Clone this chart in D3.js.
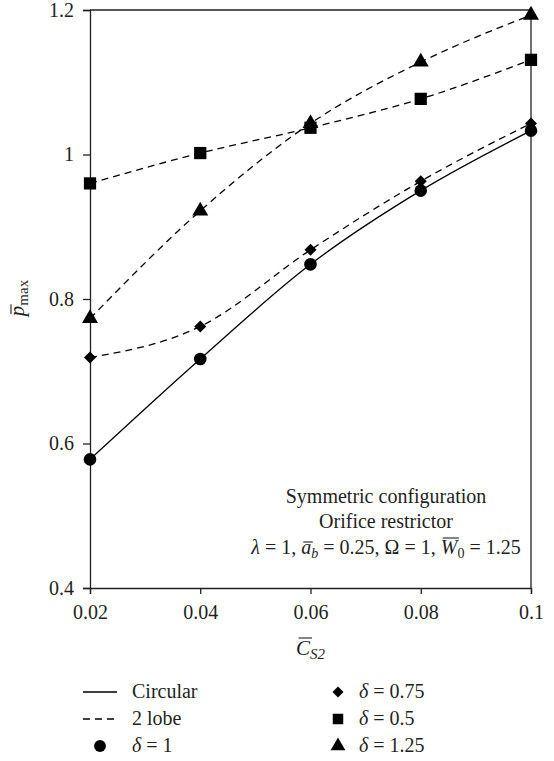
<!DOCTYPE html>
<html>
<head>
<meta charset="utf-8">
<script src="https://cdn.jsdelivr.net/npm/d3@7"></script>
<style>
	body { margin: 0; background: #fff; }
	svg { display: block; }
	text { font-family: "Liberation Serif", "DejaVu Serif", serif; fill: #231f20; }
</style>
</head>
<body>
<div id="chart"></div>
<script>
// values
var cs2 = [0.02, 0.04, 0.06, 0.08, 0.1];
var circularDelta1 = [0.578, 0.717, 0.848, 0.950, 1.033];
var lobeDelta075 = [0.719, 0.762, 0.868, 0.963, 1.043];
var lobeDelta05 = [0.960, 1.002, 1.037, 1.077, 1.131];
var lobeDelta125 = [0.773, 0.922, 1.043, 1.128, 1.193];
var xTicks = [0.02, 0.04, 0.06, 0.08, 0.1];
var yTicks = [0.4, 0.6, 0.8, 1, 1.2];

(function() {
	var width = 554, height = 761,
		plotLeft = 90, plotRight = 531, plotTop = 10, plotBottom = 588,
		ink = "#231f20",
		fontSize = "20px";

	var svg = d3.select("#chart").append("svg")
		.attr("width", width)
		.attr("height", height);

	var x = d3.scaleLinear().domain([0.02, 0.1]).range([plotLeft, plotRight]);
	var y = d3.scaleLinear().domain([0.4, 1.2]).range([plotBottom, plotTop]);

	// frame: left/bottom axes plus closing top and right lines
	var xAxis = d3.axisBottom(x).tickValues(xTicks).tickSizeOuter(0).tickSize(6).tickPadding(8)
		.tickFormat(function(d) { return d === 0.1 ? "0.1" : d3.format(".2f")(d); });
	var yAxis = d3.axisLeft(y).tickValues(yTicks).tickSizeOuter(0).tickSize(7).tickPadding(9)
		.tickFormat(function(d) { return d === 1 ? "1" : d3.format(".1f")(d); });

	var gx = svg.append("g").attr("transform", "translate(0," + plotBottom + ")").call(xAxis);
	var gy = svg.append("g").attr("transform", "translate(" + plotLeft + ",0)").call(yAxis);

	[gx, gy].forEach(function(g) {
		g.selectAll("path, line").attr("stroke", ink).attr("stroke-width", 1.3);
		g.selectAll("text").style("font-size", fontSize).attr("fill", ink);
	});
	gx.selectAll("text").attr("dy", "0.85em");

	svg.append("line").attr("x1", plotLeft).attr("x2", plotRight).attr("y1", plotTop).attr("y2", plotTop)
		.attr("stroke", ink).attr("stroke-width", 1.3);
	svg.append("line").attr("x1", plotRight).attr("x2", plotRight).attr("y1", plotTop).attr("y2", plotBottom)
		.attr("stroke", ink).attr("stroke-width", 1.3);

	// series
	var series = [
		{ values: circularDelta1, dashed: false, symbol: "circle" },
		{ values: lobeDelta075, dashed: true, symbol: "diamond" },
		{ values: lobeDelta05, dashed: true, symbol: "square" },
		{ values: lobeDelta125, dashed: true, symbol: "triangle" }
	];

	var line = d3.line()
		.x(function(d, i) { return x(cs2[i]); })
		.y(function(d) { return y(d); })
		.curve(d3.curveMonotoneX);

	function symbolPath(name) {
		if (name === "circle") return d3.symbol(d3.symbolCircle, 125)();
		if (name === "square") return d3.symbol(d3.symbolSquare, 150)();
		if (name === "diamond") return d3.symbol(d3.symbolSquare, 72)();
		return d3.symbol(d3.symbolTriangle, 110)();
	}

	series.forEach(function(s) {
		svg.append("path")
			.attr("d", line(s.values))
			.attr("fill", "none")
			.attr("stroke", "#000")
			.attr("stroke-width", 1.3)
			.attr("stroke-dasharray", s.dashed ? "7,5" : null);
	});

	series.forEach(function(s) {
		svg.append("g").selectAll("path")
			.data(s.values)
			.join("path")
			.attr("d", symbolPath(s.symbol))
			.attr("transform", function(d, i) {
				var t = "translate(" + x(cs2[i]) + "," + y(d) + ")";
				return s.symbol === "diamond" ? t + " rotate(45)" : t;
			})
			.attr("fill", "#000");
	});

	// draws a bar over one character of a text, in the text's own coordinates
	function overbar(parent, textSel, charIndex, barY, shift) {
		var e = textSel.node().getExtentOfChar(charIndex);
		parent.append("line")
			.attr("x1", e.x + shift + 0.5).attr("x2", e.x + e.width + shift)
			.attr("y1", barY).attr("y2", barY)
			.attr("stroke", ink).attr("stroke-width", 1.1);
	}

	// axis titles
	var xtBase = 655;
	var xt = svg.append("text").attr("x", 296).attr("y", xtBase).style("font-size", "21px");
	xt.append("tspan").style("font-style", "italic").text("C");
	xt.append("tspan").attr("dy", 4).style("font-size", "15px").style("font-style", "italic").text("S2");
	overbar(svg, xt, 0, xtBase - 17, 2);

	var ytGroup = svg.append("g").attr("transform", "translate(24,298) rotate(-90)");
	var yt = ytGroup.append("text")
		.attr("text-anchor", "middle")
		.style("font-size", "21px");
	yt.append("tspan").style("font-style", "italic").text("p");
	yt.append("tspan").attr("dy", 4).style("font-size", "15px").text("max");
	overbar(ytGroup, yt, 0, -13, 1.5);

	// annotation
	var noteX = 386;
	var note = svg.append("g").attr("text-anchor", "middle").style("font-size", fontSize);
	note.append("text").attr("x", noteX).attr("y", 503).text("Symmetric configuration");
	note.append("text").attr("x", noteX).attr("y", 528).text("Orifice restrictor");
	var n3Base = 554;
	var n3 = note.append("text").attr("x", noteX).attr("y", n3Base);
	var parts = [
		{ t: "λ", italic: true },
		{ t: " = 1, " },
		{ t: "a", italic: true, bar: 12 },
		{ t: "b", italic: true, sub: true },
		{ t: " = 0.25, Ω = 1, " },
		{ t: "W", italic: true, bar: 16 },
		{ t: "0", sub: true },
		{ t: " = 1.25" }
	];
	var bars = [], charPos = 0, lastSub = false;
	parts.forEach(function(p) {
		var ts = n3.append("tspan").text(p.t);
		if (p.italic) ts.style("font-style", "italic");
		if (p.sub) { ts.attr("dy", 4).style("font-size", "14px"); }
		else if (lastSub) { ts.attr("dy", -4); }
		lastSub = !!p.sub;
		if (p.bar) bars.push({ index: charPos, rise: p.bar });
		charPos += p.t.length;
	});
	bars.forEach(function(b) { overbar(svg, n3, b.index, n3Base - b.rise, 1.5); });

	// legend
	var legendLeft = [
		{ label: "Circular", kind: "solid" },
		{ label: "2 lobe", kind: "dashed" },
		{ label: "δ", value: " = 1", kind: "circle" }
	];
	var legendRight = [
		{ label: "δ", value: " = 0.75", kind: "diamond" },
		{ label: "δ", value: " = 0.5", kind: "square" },
		{ label: "δ", value: " = 1.25", kind: "triangle" }
	];
	var rowY = [692, 719, 746];

	function drawLegend(items, markX, textX) {
		items.forEach(function(it, i) {
			var cy = rowY[i];
			if (it.kind === "solid" || it.kind === "dashed") {
				svg.append("line").attr("x1", markX - 17).attr("x2", markX + 17)
					.attr("y1", cy).attr("y2", cy)
					.attr("stroke", "#000").attr("stroke-width", 1.3)
					.attr("stroke-dasharray", it.kind === "dashed" ? "7,5" : null);
			} else {
				var sz = it.kind === "circle" ? 110 : it.kind === "square" ? 110 : it.kind === "diamond" ? 60 : 95;
				var sym = it.kind === "circle" ? d3.symbolCircle : it.kind === "triangle" ? d3.symbolTriangle : d3.symbolSquare;
				svg.append("path").attr("d", d3.symbol(sym, sz)())
					.attr("transform", "translate(" + markX + "," + cy + ")" + (it.kind === "diamond" ? " rotate(45)" : ""))
					.attr("fill", "#000");
			}
			var t = svg.append("text").attr("x", textX).attr("y", cy + 6).style("font-size", fontSize);
			if (it.value) {
				t.append("tspan").style("font-style", "italic").text(it.label);
				t.append("tspan").text(it.value);
			} else {
				t.text(it.label);
			}
		});
	}
	drawLegend(legendLeft, 100, 132);
	drawLegend(legendRight, 338, 359);
})();
</script>
</body>
</html>
